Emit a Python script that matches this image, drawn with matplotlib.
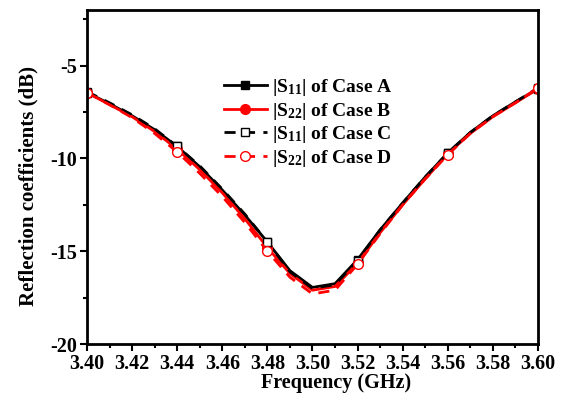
import matplotlib
matplotlib.use("Agg")
import matplotlib.pyplot as plt
from matplotlib.ticker import MultipleLocator, FormatStrFormatter

plt.rcParams["font.family"] = ["Liberation Serif", "DejaVu Serif"]
plt.rcParams["font.weight"] = "bold"
plt.rcParams["mathtext.fontset"] = "custom"
plt.rcParams["mathtext.rm"] = "Liberation Serif:bold"
plt.rcParams["mathtext.it"] = "Liberation Serif:bold"
plt.rcParams["mathtext.bf"] = "Liberation Serif:bold"

# Frequency sweep (GHz) and reflection coefficients (dB)
freq = [3.40, 3.41, 3.42, 3.43, 3.44, 3.45, 3.46, 3.47, 3.48, 3.49, 3.50,
        3.51, 3.52, 3.53, 3.54, 3.55, 3.56, 3.57, 3.58, 3.59, 3.60]
s11_case_a = [-6.45, -7.05, -7.7, -8.45, -9.35, -10.45, -11.7, -13.05, -14.5, -16.05, -16.95,
              -16.75, -15.45, -13.85, -12.4, -11.0, -9.7, -8.6, -7.7, -6.95, -6.25]
s22_case_b = [-6.45, -7.1, -7.75, -8.55, -9.5, -10.6, -11.85, -13.25, -14.8, -16.2, -17.1,
              -16.9, -15.65, -14.0, -12.5, -11.1, -9.75, -8.65, -7.75, -7.0, -6.25]
s11_case_c = [-6.4, -7.0, -7.65, -8.4, -9.35, -10.4, -11.65, -13.0, -14.5, -16.1, -17.0,
              -16.8, -15.5, -13.85, -12.4, -11.0, -9.7, -8.6, -7.7, -6.95, -6.2]
s22_case_d = [-6.45, -7.1, -7.8, -8.65, -9.65, -10.8, -12.05, -13.45, -15.0, -16.4, -17.3,
              -17.1, -15.7, -14.05, -12.5, -11.1, -9.8, -8.65, -7.75, -7.0, -6.2]

labels = [r"|S$_{11}$| of Case A", r"|S$_{22}$| of Case B",
          r"|S$_{11}$| of Case C", r"|S$_{22}$| of Case D"]

fig = plt.figure(figsize=(5.61, 4.05), dpi=100)
ax = fig.add_axes([0.155, 0.1506, 0.804, 0.8247])

mev = 4
ax.plot(freq, s11_case_a, color="black", lw=2, marker="s", ms=6,
        markevery=mev, label=labels[0])
ax.plot(freq, s22_case_b, color="red", lw=2, marker="o", ms=7,
        markevery=mev, label=labels[1])
ax.plot(freq, s11_case_c, color="black", lw=2, ls=(0, (4, 3)), marker="s", ms=6,
        mfc="white", mec="black", mew=1, markevery=mev, label=labels[2])
ax.plot(freq, s22_case_d, color="red", lw=2, ls=(0, (4, 3)), marker="o", ms=7,
        mfc="white", mec="red", mew=1, markevery=mev, label=labels[3])

ax.set_xlim(3.40, 3.60)
ax.set_ylim(-20, -2)
ax.xaxis.set_major_locator(MultipleLocator(0.02))
ax.xaxis.set_minor_locator(MultipleLocator(0.01))
ax.yaxis.set_major_locator(MultipleLocator(5))
ax.yaxis.set_minor_locator(MultipleLocator(2.5))
ax.xaxis.set_major_formatter(FormatStrFormatter("%.2f"))
ax.yaxis.set_major_formatter(FormatStrFormatter("%d"))

for side in ax.spines.values():
    side.set_linewidth(2)
ax.tick_params(which="major", direction="out", length=5, width=1.5,
               labelsize=14.5, pad=2)
ax.tick_params(which="minor", direction="out", length=3, width=1.5)
for lab in ax.get_xticklabels() + ax.get_yticklabels():
    lab.set_fontweight("bold")

ax.set_xlabel("Frequency (GHz)", fontsize=14.5, fontweight="bold")
ax.set_ylabel("Reflection coefficients (dB)", fontsize=15, fontweight="bold")
ax.xaxis.set_label_coords(0.552, -0.087)
ax.yaxis.set_label_coords(-0.107, 0.473)

leg = ax.legend(loc="upper left", bbox_to_anchor=(0.286, 0.822), frameon=False,
                fontsize=14, handlelength=2.2, handletextpad=0.3,
                labelspacing=0.13, borderaxespad=0)
for t in leg.get_texts():
    t.set_fontweight("bold")

fig.savefig("out.png", dpi=100)
